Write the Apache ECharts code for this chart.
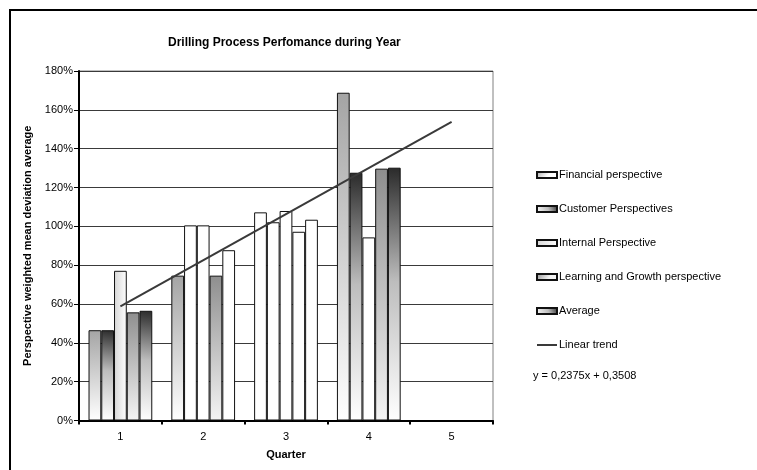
<!DOCTYPE html>
<html>
<head>
<meta charset="utf-8">
<script src="https://cdn.jsdelivr.net/npm/echarts@6/dist/echarts.min.js"></script>
<style>html,body{margin:0;padding:0;background:#fff}#c{width:757px;height:470px}</style>
</head>
<body>
<div id="c"></div>
<script>
const categories = ['1', '2', '3', '4', '5'];
const financial = [0.465, 0.746, 1.072, 1.688, null];
const customer = [0.465, 1.005, 1.021, 1.276, null];
const internal = [0.771, 1.005, 1.079, 0.943, null];
const learning = [0.557, 0.746, 0.972, 1.297, null];
const average = [0.565, 0.877, 1.034, 1.302, null];
const trend = [0.588, null, null, null, 1.538];
const yTicks = { min: 0, max: 1.8, step: 0.2 };
const trendLabel = 'y = 0,2375x + 0,3508';

const chart = echarts.init(document.getElementById('c'), null, { renderer: 'canvas' });
const LG = echarts.graphic.LinearGradient;
const gLight = () => new LG(0, 0, 0.4, 1, [{ offset: 0, color: '#a4a4a4' }, { offset: 1, color: '#ffffff' }]);
const gDark = () => new LG(1, 0, 0, 1, [{ offset: 0, color: '#2a2a2a' }, { offset: 0.45, color: '#bdbdbd' }, { offset: 1, color: '#ffffff' }]);
const gPale = () => new LG(0, 0, 1, 0, [{ offset: 0, color: '#d6d6d6' }, { offset: 1, color: '#ffffff' }]);
const gMid = () => new LG(0, 0, 0.5, 1, [{ offset: 0, color: '#8e8e8e' }, { offset: 1, color: '#f4f4f4' }]);

function build(values, whiteIdx) {
  return values.map((v, i) => {
    if (v == null) return '-';
    if (whiteIdx.indexOf(i) >= 0) return { value: v, itemStyle: { color: '#ffffff' } };
    return v;
  });
}
const font = 'Liberation Sans, Arial, sans-serif';
function bar(name, values, fill, whiteIdx) {
  return {
    name: name, type: 'bar', data: build(values, whiteIdx),
    barGap: '0%', barCategoryGap: '23%',
    itemStyle: { color: fill, borderColor: '#111', borderWidth: 1 },
    emphasis: { disabled: true }
  };
}
const barNames = ['Financial perspective', 'Customer Perspectives', 'Internal Perspective', 'Learning and Growth perspective', 'Average'];

chart.setOption({
  animation: false,
  backgroundColor: '#fff',
  title: {
    text: 'Drilling Process Perfomance during Year',
    left: 163, top: 32,
    textStyle: { fontFamily: font, fontSize: 12, fontWeight: 'bold', color: '#000' }
  },
  grid: { left: 79, right: 264, top: 71, bottom: 49.5, show: true, borderColor: '#808080', borderWidth: 1 },
  legend: {
    orient: 'vertical', left: 531, top: 163,
    itemWidth: 20, itemHeight: 6, itemGap: 20,
    textStyle: { fontFamily: font, fontSize: 11, color: '#000', lineHeight: 14, padding: [0, 0, 0, -3] },
    data: barNames.map(n => ({ name: n, icon: 'rect' })).concat([
      { name: 'Linear trend', icon: 'path://M0,0L20,0L20,2L0,2Z' }
    ])
  },
  xAxis: {
    type: 'category', data: categories,
    name: 'Quarter', nameLocation: 'middle', nameGap: 29,
    nameTextStyle: { fontFamily: font, fontSize: 11, fontWeight: 'bold', color: '#000' },
    axisLine: { lineStyle: { color: '#000', width: 2 } },
    axisTick: { show: true, length: 4, lineStyle: { color: '#000', width: 2 } },
    axisLabel: { fontFamily: font, fontSize: 11, color: '#000', margin: 11 },
    splitLine: { show: false }
  },
  yAxis: {
    type: 'value', min: yTicks.min, max: yTicks.max, interval: yTicks.step,
    name: 'Perspective weighted mean deviation average', nameLocation: 'middle', nameGap: 39, nameRotate: 90,
    nameTextStyle: { fontFamily: font, fontSize: 11, fontWeight: 'bold', color: '#000' },
    axisLine: { show: true, lineStyle: { color: '#000', width: 2 } },
    axisTick: { show: true, length: 5, lineStyle: { color: '#000' } },
    axisLabel: { fontFamily: font, fontSize: 11, color: '#000', margin: 6, formatter: v => Math.round(v * 100) + '%' },
    splitLine: { show: true, lineStyle: { color: '#3a3a3a', width: 1 } }
  },
  series: [
    bar(barNames[0], financial, gLight(), [2]),
    bar(barNames[1], customer, gDark(), [1, 2]),
    bar(barNames[2], internal, gPale(), [1, 2, 3]),
    bar(barNames[3], learning, gMid(), [2]),
    bar(barNames[4], average, gDark(), [1, 2]),
    {
      name: 'Linear trend', type: 'line', data: trend, connectNulls: true,
      symbol: 'none', showSymbol: false, z: 5,
      lineStyle: { color: '#3a3a3a', width: 2 }, itemStyle: { color: '#3a3a3a' },
      emphasis: { disabled: true }
    }
  ],
  graphic: [
    { type: 'rect', shape: { x: 10, y: 10, width: 780, height: 500 }, style: { fill: 'none', stroke: '#000', lineWidth: 2 }, silent: true },
    { type: 'text', left: 533, top: 370, style: { text: trendLabel, fontFamily: font, fontSize: 11, fill: '#000' } }
  ]
});
</script>
</body>
</html>
